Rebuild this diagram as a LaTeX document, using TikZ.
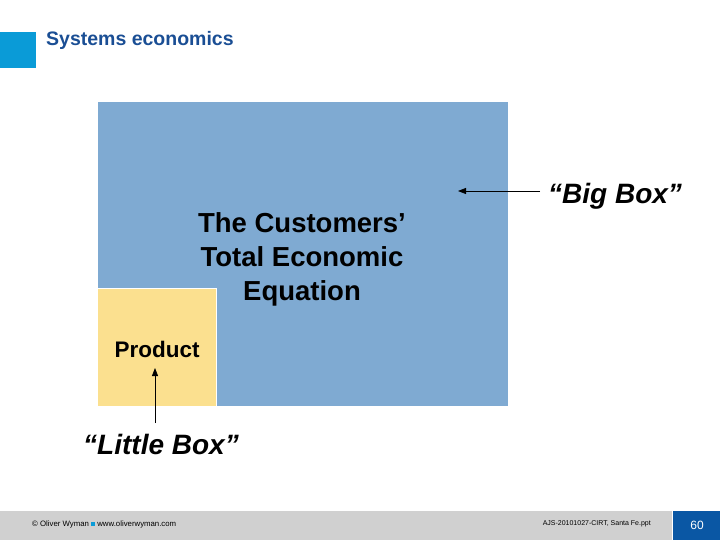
\documentclass[tikz,border=0pt]{standalone}
\usepackage{fontspec}
\setmainfont{Liberation Sans}
\usepackage{xcolor}
\usepackage{tikz}
\usetikzlibrary{positioning,arrows.meta,calc}
\definecolor{OWcyan}{HTML}{0A9BD7}
\definecolor{OWnavy}{HTML}{1A4E94}
\definecolor{BigBlue}{HTML}{7FAAD2}
\definecolor{LittleYellow}{HTML}{FBE08F}
\definecolor{FootGrey}{HTML}{D0D0D0}
\definecolor{PageBlue}{HTML}{0A57A4}

\begin{document}
\begin{tikzpicture}[
  x=1pt,y=-1pt,
  every node/.style={inner sep=0pt,align=center},
  boxfill/.style={draw=none},
  pointer/.style={-{Triangle[length=8pt,width=6pt]},line width=0.8pt},
  bigtext/.style={font=\fontsize{27.5}{34}\selectfont\bfseries},
  quote/.style={font=\fontsize{28}{32}\selectfont\bfseries\itshape},
  foot/.style={font=\fontsize{7}{8}\selectfont,anchor=west}
]
\useasboundingbox (0,0) rectangle (720,540);

% --- title ---
\fill[OWcyan] (0,32) rectangle (36,68);
\node[anchor=west,font=\fontsize{19.5}{22}\selectfont\bfseries,text=OWnavy] (title) at (46,40) {Systems economics};

% --- boxes ---
\node[boxfill,fill=BigBlue,minimum width=410pt,minimum height=304pt,anchor=north west] (bigbox) at (98,102) {};
\node[boxfill,fill=LittleYellow,minimum width=118pt,minimum height=118pt,anchor=south west] (littlebox) at (bigbox.south west) {};
\draw[white,line width=1pt] (littlebox.north west) -- (littlebox.north east) -- (littlebox.south east);

% --- texts ---
\node[bigtext] (equation) at (302,259) {The Customers’\\Total Economic\\Equation};
\node[font=\fontsize{22.5}{26}\selectfont\bfseries] (product) at (157,349) {Product};
\node[quote,anchor=west] (bigquote) at (548,196) {“Big Box”};
\node[quote] (littlequote) at (161,444) {“Little Box”};

% --- arrows ---
\coordinate (bigtail) at (540,191);
\coordinate (bigtip) at (458,191);
\coordinate (littletail) at (155,423);
\coordinate (littletip) at (155,368);
\draw[pointer] (bigtail) -- (bigtip);
\draw[pointer] (littletail) -- (littletip);

% --- footer ---
\fill[FootGrey] (0,511) rectangle (672,540);
\fill[PageBlue] (673,511) rectangle (720,540);
\node[foot,font=\fontsize{7.8}{9}\selectfont] (copyright) at (32,524) {© Oliver Wyman \textcolor{OWcyan}{\rule{4pt}{4pt}} www.oliverwyman.com};
\node[foot,anchor=east] (filename) at (651,524) {AJS-20101027-CIRT, Santa Fe.ppt};
\node[font=\fontsize{12}{14}\selectfont,text=white] (pagenum) at (697,525) {60};
\end{tikzpicture}
\end{document}
